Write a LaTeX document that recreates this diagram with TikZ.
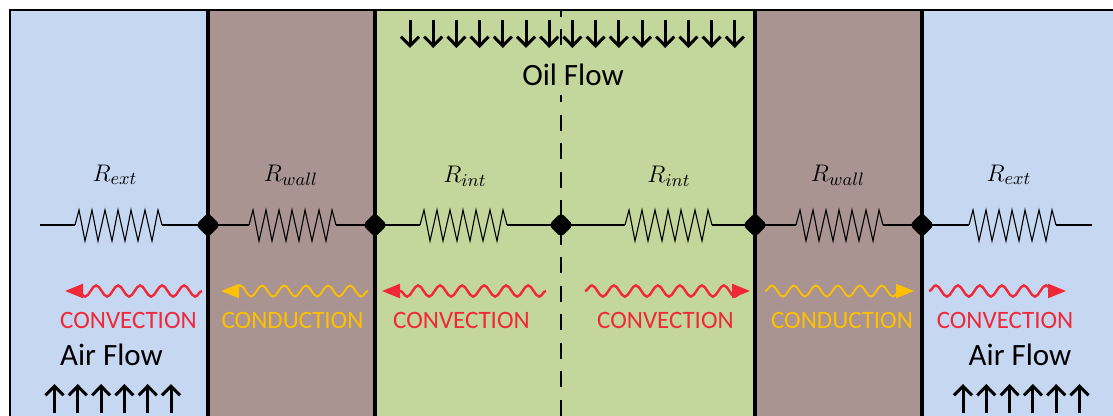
\documentclass[tikz,border=0pt]{standalone}
\usepackage{fontspec}
\setmainfont{Carlito}
\usepackage{tikz}
\usetikzlibrary{arrows.meta, decorations.pathmorphing, shapes.geometric}
\definecolor{airblue}{RGB}{198,216,241}
\definecolor{wallbrown}{RGB}{170,148,146}
\definecolor{oilgreen}{RGB}{195,214,155}
\definecolor{convred}{RGB}{240,40,55}
\definecolor{condorange}{RGB}{255,192,0}

\begin{document}
\begin{tikzpicture}[
    x=0.5pt, y=-0.5pt,
    dot/.style={diamond, fill=black, inner sep=0pt, minimum size=12.5pt, rounded corners=2pt},
    wire/.style={draw=black, line width=0.7pt},
    divider/.style={draw=black, line width=2pt},
    flow/.style={draw=black, line width=1.5pt, -{Straight Barb[length=4.6pt, width=9pt]}},
    wave/.style={line width=#1, decorate, decoration={snake, segment length=11pt, amplitude=2.8pt, post=lineto, post length=4pt}},
    conv/.style={draw=convred, wave=1.2pt, -{Triangle[length=9pt, width=7pt, fill=convred]}},
    cond/.style={draw=condorange, wave=0.9pt, -{Triangle[length=9pt, width=7pt, fill=condorange]}},
    convlabel/.style={text=convred, font=\fontsize{12.5}{14}\selectfont},
    condlabel/.style={text=condorange, font=\fontsize{12.5}{14}\selectfont},
    flowlabel/.style={font=\fontsize{15.5}{18}\selectfont},
    rlabel/.style={font=\fontsize{13}{15}\selectfont},
    resistor/.pic={
        \coordinate (-in) at (0,0);
        \coordinate (-out) at (87,0);
        \draw[line width=0.55pt] (-in) -- (4,-15) -- (10,16) -- (17,-15) -- (23,16) -- (30,-15) -- (37,16)
            -- (43,-15) -- (50,16) -- (56,-15) -- (63,16) -- (70,-15) -- (77,16) -- (83,-15) -- (-out);
    },
]
\useasboundingbox (0,0) rectangle (1113,416);

% Regions
\fill[airblue] (10,10) rectangle (208,416);
\fill[wallbrown] (208,10) rectangle (375,416);
\fill[oilgreen] (375,10) rectangle (755,416);
\fill[wallbrown] (755,10) rectangle (922,416);
\fill[airblue] (922,10) rectangle (1113,416);

% Frame
\coordinate (top) at (0,10);
\coordinate (bot) at (0,416);
\draw[line width=1pt] (10,416) -- (10,10) -- (1113,10);

% Junctions
\node[dot] (j1) at (208,225) {};
\node[dot] (j2) at (375,225) {};
\node[dot] (j3) at (561,225) {};
\node[dot] (j4) at (755,225) {};
\node[dot] (j5) at (922,225) {};

% Centre line
\draw[line width=0.7pt, dash pattern=on 8pt off 6.25pt, dash phase=4.5pt] (j3 |- top) -- (j3 |- bot);

% Walls
\foreach \j in {j1,j2,j4,j5}
    \draw[divider] (\j |- top) -- (\j |- bot);

% Resistors
\coordinate (wirein) at (40,225);
\coordinate (wireout) at (1092,225);
\pic (rext1) at (75,225) {resistor};
\pic (rwall1) at (249,225) {resistor};
\pic (rint1) at (420,225) {resistor};
\pic (rint2) at (625,225) {resistor};
\pic (rwall2) at (796,225) {resistor};
\pic (rext2) at (969,225) {resistor};

% Wires
\draw[wire] (wirein) -- (rext1-in);
\draw[wire] (rext1-out) -- (j1.center);
\draw[wire] (j1.center) -- (rwall1-in);
\draw[wire] (rwall1-out) -- (j2.center);
\draw[wire] (j2.center) -- (rint1-in);
\draw[wire] (rint1-out) -- (j3.center);
\draw[wire] (j3.center) -- (rint2-in);
\draw[wire] (rint2-out) -- (j4.center);
\draw[wire] (j4.center) -- (rwall2-in);
\draw[wire] (rwall2-out) -- (j5.center);
\draw[wire] (j5.center) -- (rext2-in);
\draw[wire] (rext2-out) -- (wireout);

% Resistance labels
\node[rlabel] (lext1) at (115,175) {$R_{ext}$};
\node[rlabel] (lwall1) at (291,175) {$R_{wall}$};
\node[rlabel] (lint1) at (465,176) {$R_{int}$};
\node[rlabel] (lint2) at (669,176) {$R_{int}$};
\node[rlabel] (lwall2) at (838,175) {$R_{wall}$};
\node[rlabel] (lext2) at (1009,175) {$R_{ext}$};

% Heat transfer
\coordinate (a1) at (202,291); \coordinate (b1) at (65,291);
\coordinate (a2) at (368,291); \coordinate (b2) at (221,291);
\coordinate (a3) at (546,291); \coordinate (b3) at (382,291);
\coordinate (a4) at (585,291); \coordinate (b4) at (750,291);
\coordinate (a5) at (765,291); \coordinate (b5) at (914,291);
\coordinate (a6) at (929,291); \coordinate (b6) at (1066,291);
\draw[conv] (a1) -- (b1);
\draw[cond] (a2) -- (b2);
\draw[conv] (a3) -- (b3);
\draw[conv] (a4) -- (b4);
\draw[cond] (a5) -- (b5);
\draw[conv] (a6) -- (b6);

\node[convlabel] (conv1) at (128.5,320) {CONVECTION};
\node[condlabel] (cond1) at (292.5,320) {CONDUCTION};
\node[convlabel] (conv2) at (461.5,320) {CONVECTION};
\node[convlabel] (conv3) at (665.5,320) {CONVECTION};
\node[condlabel] (cond2) at (842,320) {CONDUCTION};
\node[convlabel] (conv4) at (1005,320) {CONVECTION};

% Flows
\node[flowlabel, fill=oilgreen, inner sep=0pt, minimum height=20pt] (oil) at (573,75) {Oil Flow};
\node[flowlabel] (air1) at (111.5,355) {Air Flow};
\node[flowlabel] (air2) at (1020,355) {Air Flow};

\foreach \i in {0,...,14}
    \draw[flow] (410+23.2*\i,20) -- (410+23.2*\i,48);
\foreach \i in {0,...,5} {
    \draw[flow] (54.5+23.3*\i,413) -- (54.5+23.3*\i,384);
    \draw[flow] (963+23.3*\i,413) -- (963+23.3*\i,384);
}

\end{tikzpicture}
\end{document}
